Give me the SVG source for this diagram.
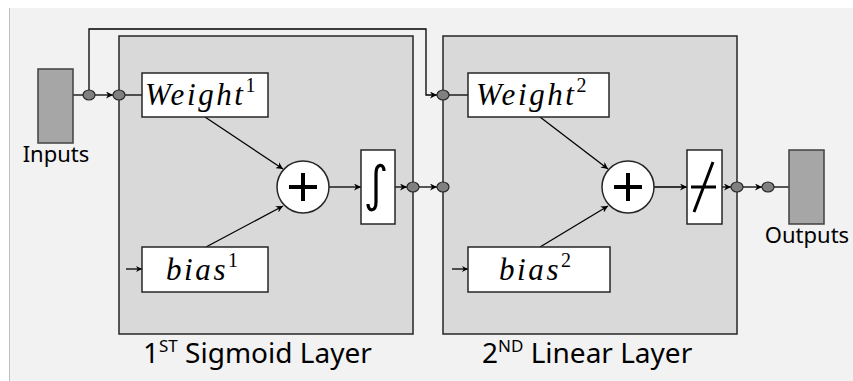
<svg xmlns="http://www.w3.org/2000/svg" width="853" height="381" viewBox="0 0 853 381">
  <defs>
    <marker id="arr" viewBox="0 0 10 10" refX="10" refY="5" markerWidth="7" markerHeight="7" markerUnits="userSpaceOnUse" orient="auto">
      <path d="M0,0 L10,5 L0,10 L3,5 Z" fill="#000"/>
    </marker>
    <marker id="arrS" viewBox="0 0 10 10" refX="10" refY="5" markerWidth="6" markerHeight="6" markerUnits="userSpaceOnUse" orient="auto">
      <path d="M0,0 L10,5 L0,10 L3,5 Z" fill="#000"/>
    </marker>
  </defs>
  <style>
    .layer { fill: #d9d9d9; stroke: #262626; stroke-width: 1.5; }
    .box { fill: #ffffff; stroke: #262626; stroke-width: 1.5; }
    .io { fill: #a6a6a6; stroke: #404040; stroke-width: 1.5; }
    .dot { fill: #808080; stroke: #262626; stroke-width: 1.2; }
    .sum { fill: #ffffff; stroke: #262626; stroke-width: 1.5; }
    .wire { fill: none; stroke: #000; stroke-width: 1.3; }
    .math { font-family: "Liberation Serif", "DejaVu Serif", serif; font-style: italic; font-size: 31px; fill: #000; letter-spacing: 2.6px; }
    .sup { font-family: "Liberation Serif", "DejaVu Serif", serif; font-style: normal; font-size: 20px; fill: #000; letter-spacing: 0; }
    .lbl { font-family: "Noto Sans", "Open Sans", "DejaVu Sans", sans-serif; font-size: 22px; fill: #000; }
    .title { font-family: "Noto Sans", "Open Sans", "DejaVu Sans", sans-serif; font-size: 28px; fill: #000; }
    .stitle { font-family: "Noto Sans", "Open Sans", "DejaVu Sans", sans-serif; font-size: 17px; fill: #000; }
  </style>

  <!-- canvas -->
  <rect x="0" y="0" width="853" height="381" fill="#ffffff"/>
  <rect x="9" y="8" width="844" height="373" fill="#f2f2f2"/>
  <line x1="9.5" y1="8" x2="9.5" y2="381" stroke="#bfbfbf" stroke-width="1"/>

  <!-- layer panels -->
  <g id="layer1">
    <rect class="layer" x="119" y="36" width="294" height="298"/>
    <text class="title" x="143" y="363">1<tspan class="stitle" dy="-11">ST</tspan><tspan dy="11"> Sigmoid Layer</tspan></text>
  </g>
  <g id="layer2">
    <rect class="layer" x="443" y="36" width="294" height="298"/>
    <text class="title" x="482" y="363">2<tspan class="stitle" dy="-11">ND</tspan><tspan dy="11"> Linear Layer</tspan></text>
  </g>

  <!-- connectors -->
  <g id="connectors">
    <line class="wire" x1="73" y1="95" x2="83" y2="95"/>
    <line class="wire" x1="95" y1="95" x2="113" y2="95" marker-end="url(#arr)"/>
    <polyline class="wire" points="89,90 89,29 426,29 426,95 437,95" marker-end="url(#arr)"/>
    <line class="wire" x1="125" y1="95" x2="142" y2="95"/>
    <line class="wire" x1="205" y1="117" x2="283" y2="169" marker-end="url(#arr)"/>
    <line class="wire" x1="206" y1="247" x2="283" y2="206" marker-end="url(#arr)"/>
    <line class="wire" x1="126" y1="269" x2="142" y2="269" marker-end="url(#arrS)"/>
    <line class="wire" x1="329" y1="187" x2="361" y2="187" marker-end="url(#arr)"/>
    <line class="wire" x1="395" y1="187" x2="407" y2="187" marker-end="url(#arr)"/>
    <line class="wire" x1="419" y1="187" x2="437" y2="187" marker-end="url(#arr)"/>
    <line class="wire" x1="449" y1="95" x2="468" y2="95"/>
    <line class="wire" x1="540" y1="117" x2="608" y2="169" marker-end="url(#arr)"/>
    <line class="wire" x1="540" y1="247" x2="608" y2="206" marker-end="url(#arr)"/>
    <line class="wire" x1="452" y1="269" x2="468" y2="269" marker-end="url(#arrS)"/>
    <line class="wire" x1="654" y1="187" x2="687" y2="187" marker-end="url(#arr)"/>
    <line class="wire" x1="722" y1="187" x2="731" y2="187" marker-end="url(#arr)"/>
    <line class="wire" x1="743" y1="187" x2="762" y2="187" marker-end="url(#arr)"/>
    <line class="wire" x1="774" y1="187" x2="789" y2="187"/>
  </g>

  <!-- inputs / outputs -->
  <g id="inputs">
    <rect class="io" x="38" y="69" width="35" height="74"/>
    <text class="lbl" x="56" y="162" text-anchor="middle">Inputs</text>
  </g>
  <g id="outputs">
    <rect class="io" x="789" y="150" width="35" height="74"/>
    <text class="lbl" x="807" y="243" text-anchor="middle">Outputs</text>
  </g>

  <!-- junction dots -->
  <g id="dots">
    <ellipse class="dot" cx="89" cy="95" rx="6" ry="5"/>
    <ellipse class="dot" cx="119" cy="95" rx="6" ry="5"/>
    <ellipse class="dot" cx="413" cy="187" rx="6" ry="5"/>
    <ellipse class="dot" cx="443" cy="187" rx="6" ry="5"/>
    <ellipse class="dot" cx="443" cy="95" rx="6" ry="5"/>
    <ellipse class="dot" cx="737" cy="187" rx="6" ry="5"/>
    <ellipse class="dot" cx="768" cy="187" rx="6" ry="5"/>
  </g>

  <!-- layer 1 blocks -->
  <g id="weight1">
    <rect class="box" x="142" y="73" width="126" height="44"/>
    <text class="math" x="145" y="105">Weight<tspan class="sup" dy="-13">1</tspan></text>
  </g>
  <g id="bias1">
    <rect class="box" x="142" y="247" width="126" height="45"/>
    <text class="math" x="166" y="280">bias<tspan class="sup" dy="-13">1</tspan></text>
  </g>
  <g id="sum1">
    <circle class="sum" cx="303" cy="187" r="26"/>
    <path d="M289,187 H317 M303,173 V201" stroke="#000" stroke-width="4" fill="none"/>
  </g>
  <g id="sigmoid">
    <rect class="box" x="361" y="150" width="34" height="74"/>
    <path d="M384,171 C384,163 376,163 376,174 V202 C376,212 368,212 368,204" stroke="#000" stroke-width="3.2" fill="none"/>
  </g>

  <!-- layer 2 blocks -->
  <g id="weight2">
    <rect class="box" x="468" y="73" width="141" height="44"/>
    <text class="math" x="476" y="105">Weight<tspan class="sup" dy="-13">2</tspan></text>
  </g>
  <g id="bias2">
    <rect class="box" x="468" y="247" width="142" height="45"/>
    <text class="math" x="499" y="280">bias<tspan class="sup" dy="-13">2</tspan></text>
  </g>
  <g id="sum2">
    <circle class="sum" cx="628" cy="187" r="26"/>
    <path d="M614,187 H642 M628,173 V201" stroke="#000" stroke-width="4" fill="none"/>
  </g>
  <g id="linear">
    <rect class="box" x="687" y="150" width="35" height="74"/>
    <path d="M691,187 H716 M713,162 L694,212" stroke="#000" stroke-width="3" fill="none"/>
  </g>
</svg>
